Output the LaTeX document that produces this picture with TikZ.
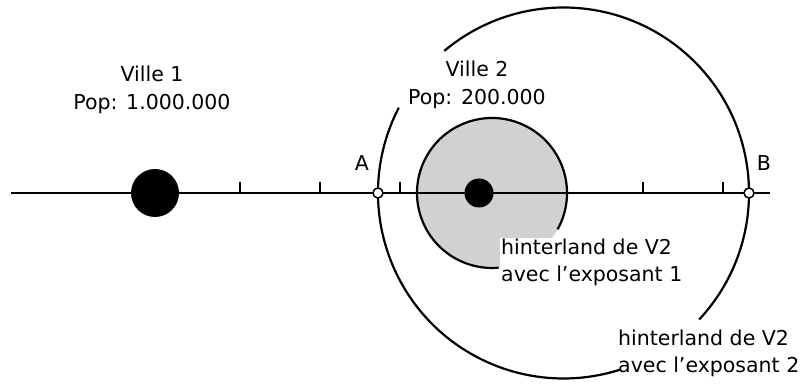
\documentclass[tikz,border=0pt]{standalone}
\usepackage{fontspec}
\setmainfont{DejaVu Sans}
\begin{document}
\begin{tikzpicture}[x=1pt,y=1pt,
  lbl/.style={inner sep=1pt, font=\fontsize{20.5}{27.5}\selectfont, align=left},
  citydot/.style={circle, fill=black, draw=none, inner sep=0pt},
  endpt/.style={circle, fill=white, draw=black, line width=1.5pt, inner sep=0pt, minimum size=10pt},
  ring/.style={line width=2.2pt},
  tick/.style={line width=1.8pt}]
\useasboundingbox (0,0) rectangle (803,383);
% shaded hinterland 1
\fill[black!18] (492,190) circle (75);
\node[lbl, fill=white, anchor=west] (h1) at (500,120.5) {hinterland de V2\\avec l’exposant 1};
\draw[ring] (492,190) ++(-29:75) arc[start angle=-29, end angle=275, radius=75];
% big circle (hinterland 2)
\draw[ring] (563.5,190) ++(-43:185.5) arc[start angle=-43, end angle=130, radius=185.5];
\draw[ring] (563.5,190) ++(152.6:185.5) arc[start angle=152.6, end angle=288, radius=185.5];
\node[lbl, anchor=west] (h2) at (617,29.5) {hinterland de V2\\avec l’exposant 2};
% axis
\coordinate (L) at (11,190);
\coordinate (R) at (770,190);
\draw[line width=2.2pt] (L) -- (R);
\foreach \x in {240,320,400,643,723} \draw[tick] (\x,190) -- (\x,201);
% cities
\node[citydot, minimum size=48pt] (v1) at (155,190) {};
\node[citydot, minimum size=29pt] (v2) at (479,190) {};
% points A, B
\node[endpt] (A) at (378,190) {};
\node[endpt] (B) at (749,190) {};
\node[lbl] (Alab) at (362,220) {A};
\node[lbl] (Blab) at (764,220) {B};
% labels
\node[lbl, align=center] (v1lab) at (152,293) {Ville 1\\Pop: 1.000.000};
\node[lbl, align=center] (v2lab) at (477,298) {Ville 2\\Pop: 200.000};
\end{tikzpicture}
\end{document}
